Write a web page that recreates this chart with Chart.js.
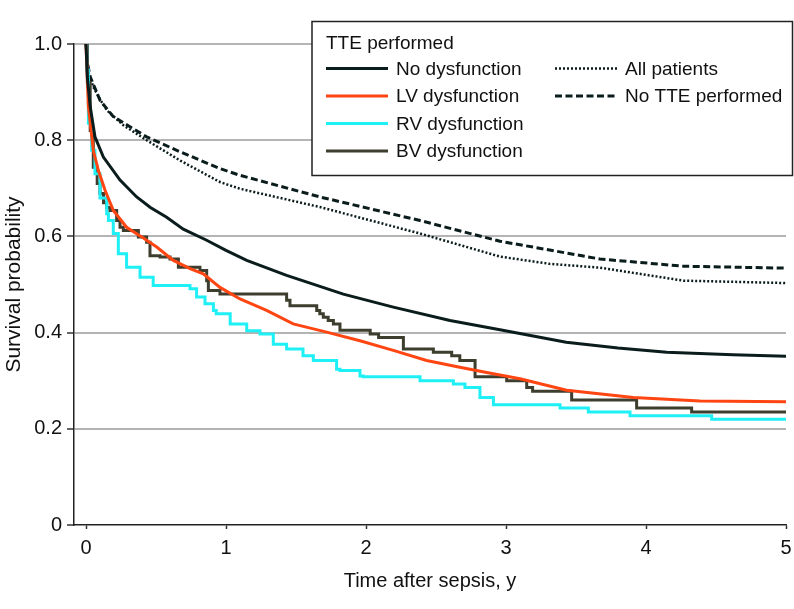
<!DOCTYPE html>
<html>
<head>
<meta charset="utf-8">
<script src="https://cdn.jsdelivr.net/npm/chart.js@4/dist/chart.umd.min.js"></script>
<style>
  html, body { margin: 0; padding: 0; background: #fff; }
  #wrap { width: 794px; height: 609px; }
</style>
</head>
<body>
<div id="wrap"><canvas id="km" width="794" height="609"></canvas></div>
<script>
// tick labels
const xTicks = [0, 1, 2, 3, 4, 5];
const yTicks = [0, 0.2, 0.4, 0.6, 0.8, 1.0];
const legendTitle = 'TTE performed';

// No dysfunction
const noDysT = [0, 0.01, 0.03, 0.064, 0.124, 0.243, 0.362, 0.46, 0.576, 0.695, 0.862, 1.0, 1.148, 1.433, 1.838, 2.195, 2.6, 2.957, 3.43, 3.8, 4.148, 4.62, 5.0];
const noDysS = [1.0, 0.93, 0.87, 0.807, 0.765, 0.717, 0.682, 0.66, 0.64, 0.615, 0.592, 0.571, 0.55, 0.519, 0.48, 0.453, 0.425, 0.406, 0.38, 0.368, 0.359, 0.354, 0.351];

// LV dysfunction
const lvT = [0, 0.017, 0.052, 0.088, 0.136, 0.195, 0.29, 0.398, 0.433, 0.505, 0.624, 0.743, 0.838, 0.957, 1.1, 1.29, 1.48, 1.719, 1.957, 2.195, 2.433, 2.67, 2.862, 3.1, 3.433, 3.91, 4.386, 5.0];
const lvS = [1.0, 0.87, 0.779, 0.7375, 0.696, 0.654, 0.619, 0.599, 0.592, 0.578, 0.55, 0.533, 0.522, 0.494, 0.47, 0.446, 0.418, 0.401, 0.383, 0.363, 0.342, 0.328, 0.317, 0.304, 0.28, 0.265, 0.258, 0.256];

// RV dysfunction (step times and survival after the step)
const rvT = [0, 0.005, 0.017, 0.04, 0.064, 0.1, 0.148, 0.16, 0.195, 0.231, 0.29, 0.386, 0.48, 0.743, 0.79, 0.85, 0.91, 0.93, 1.03, 1.148, 1.243, 1.338, 1.433, 1.55, 1.624, 1.79, 1.814, 1.957, 1.98, 2.386, 2.624, 2.707, 2.814, 2.91, 3.386, 3.588, 3.886, 4.469, 5.0];
const rvS = [1.0, 0.946, 0.835, 0.779, 0.73, 0.68, 0.647, 0.633, 0.606, 0.564, 0.536, 0.515, 0.498, 0.491, 0.474, 0.46, 0.446, 0.439, 0.418, 0.404, 0.397, 0.376, 0.366, 0.352, 0.342, 0.324, 0.321, 0.31, 0.308, 0.3, 0.293, 0.286, 0.265, 0.25, 0.243, 0.235, 0.227, 0.22, 0.22];

// BV dysfunction
const bvT = [0, 0.01, 0.03, 0.052, 0.08, 0.1, 0.125, 0.148, 0.171, 0.219, 0.243, 0.267, 0.374, 0.433, 0.457, 0.529, 0.6, 0.66, 0.814, 0.862, 0.874, 0.957, 1.433, 1.457, 1.648, 1.67, 1.695, 1.73, 1.767, 1.814, 2.03, 2.09, 2.267, 2.481, 2.612, 2.67, 2.779, 3.005, 3.148, 3.19, 3.469, 3.933, 4.326, 5.0];
const bvS = [1.0, 0.92, 0.82, 0.744, 0.71, 0.689, 0.67, 0.66, 0.654, 0.633, 0.619, 0.6125, 0.599, 0.588, 0.56, 0.557, 0.553, 0.536, 0.529, 0.508, 0.4875, 0.48, 0.467, 0.456, 0.446, 0.439, 0.432, 0.425, 0.418, 0.405, 0.397, 0.39, 0.366, 0.359, 0.352, 0.342, 0.308, 0.3, 0.286, 0.278, 0.26, 0.243, 0.235, 0.235];

// All patients
const allT = [0, 0.005, 0.02, 0.052, 0.1, 0.148, 0.267, 0.433, 0.671, 0.957, 1.1, 1.671, 2.386, 2.957, 3.31, 3.671, 4.267, 5.0];
const allS = [1.0, 0.967, 0.94, 0.911, 0.885, 0.8625, 0.831, 0.8, 0.758, 0.713, 0.699, 0.661, 0.606, 0.558, 0.543, 0.535, 0.508, 0.503];

// No TTE performed
const noTteT = [0, 0.01, 0.03, 0.1, 0.195, 0.433, 0.671, 0.957, 1.1, 1.671, 2.386, 2.957, 3.671, 4.267, 5.0];
const noTteS = [1.0, 0.96, 0.932, 0.883, 0.849, 0.807, 0.776, 0.741, 0.727, 0.682, 0.633, 0.59, 0.553, 0.538, 0.534];

const FONT = "'Liberation Sans', Arial, sans-serif";
const INK = '#0b1c1c';

const toPts = (ts, ss) => ts.map((t, i) => ({ x: t, y: ss[i] }));

// draws the boxed two-column legend from the datasets
const boxLegend = {
  id: 'boxLegend',
  afterDraw(chart) {
    const ctx = chart.ctx;
    ctx.save();
    ctx.fillStyle = '#fff';
    ctx.fillRect(312, 21, 481, 154);
    ctx.strokeStyle = '#222';
    ctx.lineWidth = 1.5;
    ctx.strokeRect(312, 21.5, 480.5, 154);

    ctx.font = '19px ' + FONT;
    ctx.fillStyle = '#111';
    ctx.textBaseline = 'middle';
    ctx.fillText(legendTitle, 326, 44);

    chart.data.datasets.forEach((ds, i) => {
      const col = i < 4 ? 0 : 1;
      const row = i < 4 ? i : i - 4;
      const x0 = col === 0 ? 326 : 555;
      const y = 68.5 + row * 27.5;
      ctx.beginPath();
      ctx.strokeStyle = ds.borderColor;
      ctx.lineWidth = ds.borderWidth;
      ctx.setLineDash(ds.borderDash || []);
      ctx.moveTo(x0, y);
      ctx.lineTo(x0 + 62, y);
      ctx.stroke();
      ctx.setLineDash([]);
      ctx.fillStyle = '#111';
      ctx.fillText(ds.label, x0 + 70, y + 1);
    });
    ctx.restore();
  }
};

new Chart(document.getElementById('km'), {
  type: 'line',
  data: {
    datasets: [
      { label: 'No dysfunction', data: toPts(noDysT, noDysS), borderColor: INK, borderWidth: 3 },
      { label: 'LV dysfunction', data: toPts(lvT, lvS), borderColor: '#ff4512', borderWidth: 3 },
      { label: 'RV dysfunction', data: toPts(rvT, rvS), borderColor: '#1ef0f6', borderWidth: 3, stepped: true },
      { label: 'BV dysfunction', data: toPts(bvT, bvS), borderColor: '#3e3e2e', borderWidth: 3, stepped: true },
      { label: 'All patients', data: toPts(allT, allS), borderColor: INK, borderWidth: 2.5, borderDash: [2, 2] },
      { label: 'No TTE performed', data: toPts(noTteT, noTteS), borderColor: INK, borderWidth: 3, borderDash: [7, 3.5] }
    ]
  },
  options: {
    responsive: false,
    animation: false,
    parsing: false,
    layout: { padding: { top: 44, right: 8, left: 0, bottom: 16 } },
    elements: { point: { radius: 0 }, line: { tension: 0, borderCapStyle: 'butt' } },
    plugins: { legend: { display: false }, tooltip: { enabled: false } },
    scales: {
      x: {
        type: 'linear',
        min: -0.0857,
        max: 5,
        afterBuildTicks: (s) => { s.ticks = xTicks.map(v => ({ value: v })); },
        afterFit: (s) => { s.paddingRight = 0; },
        grid: { drawOnChartArea: false, drawTicks: true, tickLength: 4, tickColor: '#333', tickWidth: 1.5 },
        border: { color: '#222', width: 1.5 },
        ticks: { font: { family: FONT, size: 20 }, color: '#111', padding: 7, maxRotation: 0 },
        title: { display: true, text: 'Time after sepsis, y', font: { family: FONT, size: 20 }, color: '#111', padding: { top: 2, bottom: 0 } }
      },
      y: {
        min: 0,
        max: 1,
        afterBuildTicks: (s) => { s.ticks = yTicks.map(v => ({ value: v })); },
        grid: {
          color: (c) => (c.tick && c.tick.value === 0 ? 'rgba(0,0,0,0)' : '#b4b4b4'),
          lineWidth: 2,
          tickLength: 7,
          tickColor: '#333',
          tickWidth: 1.5
        },
        border: { color: '#222', width: 1.5 },
        ticks: {
          font: { family: FONT, size: 20 },
          color: '#111',
          padding: 5,
          callback: (v) => (v === 0 ? '0' : v.toFixed(1))
        },
        title: { display: true, text: 'Survival probability', font: { family: FONT, size: 21 }, color: '#111', padding: { top: 2, bottom: 2 } }
      }
    }
  },
  plugins: [boxLegend]
});
</script>
</body>
</html>
